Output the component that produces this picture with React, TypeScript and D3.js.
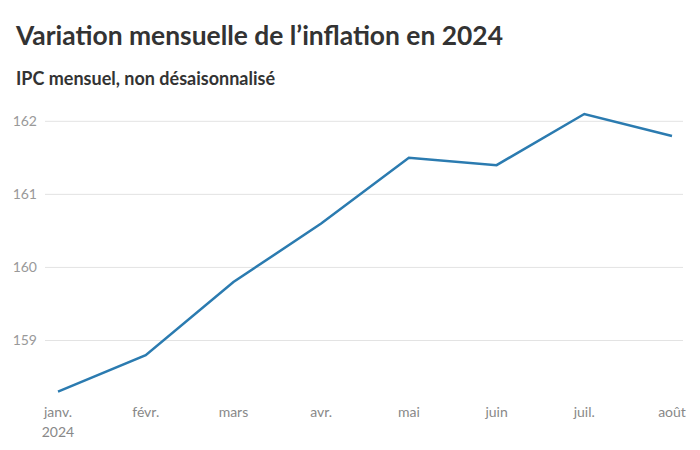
import React from "react";
import * as d3 from "d3";

const months = ["janv.", "févr.", "mars", "avr.", "mai", "juin", "juil.", "août"];
const values = [158.3, 158.8, 159.8, 160.6, 161.5, 161.4, 162.1, 161.8];
const yTicks = [159, 160, 161, 162];
const titleText = "Variation mensuelle de l’inflation en 2024";
const subtitleText = "IPC mensuel, non désaisonnalisé";
const yearLabel = "2024";

export default function App() {
  const W = 700, H = 450;
  const x = d3.scalePoint<string>().domain(months).range([58, 672]);
  const y = d3.scaleLinear().domain([159, 162]).range([340.5, 121.3]);
  const line = d3
    .line<number>()
    .x((_, i) => x(months[i]) as number)
    .y((d) => y(d));
  const font = "Lato, 'Noto Sans', sans-serif";
  return (
    <svg
      width={W}
      height={H}
      style={{ position: "absolute", left: 0, top: 0, background: "#fff" }}
      fontFamily={font}
    >
      <rect width={W} height={H} fill="#fff" />
      <text x={16} y={45} fontSize={27} fontWeight={700} fill="#333" textLength={487} lengthAdjust="spacingAndGlyphs">
        {titleText}
      </text>
      <text x={16} y={85} fontSize={18} fontWeight={700} fill="#333">
        {subtitleText}
      </text>
      {yTicks.map((t) => (
        <g key={t}>
          <line x1={45} x2={683} y1={y(t)} y2={y(t)} stroke="#e3e3e3" strokeWidth={1} />
          <text x={37} y={y(t)} dy="0.35em" textAnchor="end" fontSize={14} fill="#999">
            {t}
          </text>
        </g>
      ))}
      {months.map((m, i) => (
        <text key={m} x={x(m)} y={417} textAnchor="middle" fontSize={14} fill="#888">
          {m}
        </text>
      ))}
      <text x={x(months[0])} y={437} textAnchor="middle" fontSize={14} fill="#888">
        {yearLabel}
      </text>
      <path d={line(values) || ""} fill="none" stroke="#2b7bb0" strokeWidth={2.5} strokeLinejoin="miter" />
    </svg>
  );
}
